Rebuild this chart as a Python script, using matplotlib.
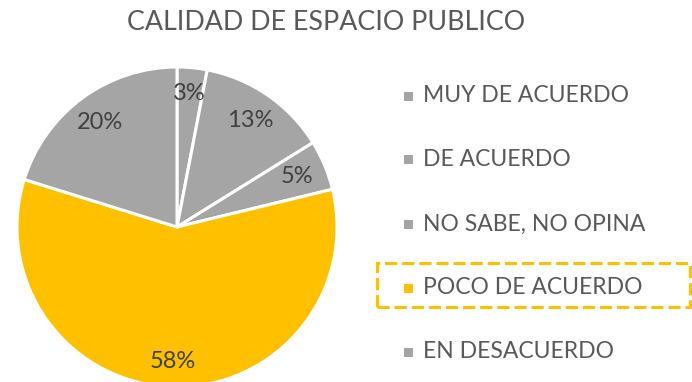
import matplotlib
matplotlib.use("Agg")
import matplotlib.pyplot as plt
from matplotlib.patches import Rectangle
import numpy as np

# Survey answers, in the order they are drawn (clockwise from 12 o'clock)
categorias = ["MUY DE ACUERDO", "DE ACUERDO", "NO SABE, NO OPINA",
              "POCO DE ACUERDO", "EN DESACUERDO"]
porcentajes = [3, 13, 5, 58, 20]
colores = ["#A5A5A5", "#A5A5A5", "#A5A5A5", "#FFC000", "#A5A5A5"]
resaltado = "POCO DE ACUERDO"

plt.rcParams['font.family'] = ['Lato', 'DejaVu Sans']

W, H = 692, 382
fig = plt.figure(figsize=(W / 100, H / 100), dpi=100)

# pie centred at (177, 227) px from the top-left, radius 160 px
cx, cy, r = 177, 227, 160
ax = fig.add_axes([(cx - r) / W, (H - cy - r) / H, 2 * r / W, 2 * r / H])
wedges, _ = ax.pie(porcentajes, colors=colores, startangle=90, counterclock=False,
                   radius=1, wedgeprops=dict(edgecolor="white", linewidth=2.2))
ax.set_xlim(-1, 1)
ax.set_ylim(-1, 1)
ax.set_aspect("equal")
ax.axis("off")

# percentage labels inside each slice
total = sum(porcentajes)
inicio = 90.0
for v in porcentajes:
    ang = inicio - v / total * 360 / 2
    d = 0.84 if v in (3, 58) else 0.81
    ax.text(d * np.cos(np.radians(ang)), d * np.sin(np.radians(ang)), f"{v}%",
            ha="center", va="center", fontsize=17, color="#404040")
    inicio -= v / total * 360

fig.text(326 / W, 1 - 22 / H, "CALIDAD DE ESPACIO PUBLICO", ha="center", va="center",
         fontsize=19.3, color="#595959")

# legend on the right
y0, paso = 96, 64
for i, (cat, col) in enumerate(zip(categorias, colores)):
    y = y0 + i * paso
    fig.patches.append(Rectangle((404 / W, 1 - (y + 4.5) / H), 9 / W, 9 / H,
                                 transform=fig.transFigure, facecolor=col,
                                 edgecolor="none"))
    fig.text(423 / W, 1 - y / H, cat, ha="left", va="center", fontsize=16.5,
             color="#595959")
    if cat == resaltado:
        fig.patches.append(Rectangle((377 / W, 1 - 307 / H), 313 / W, 44 / H,
                                     transform=fig.transFigure, facecolor="none",
                                     edgecolor="#FFC000", linewidth=2.2,
                                     linestyle=(0, (4, 1.6))))

fig.savefig("out.png", dpi=100, facecolor="white")
